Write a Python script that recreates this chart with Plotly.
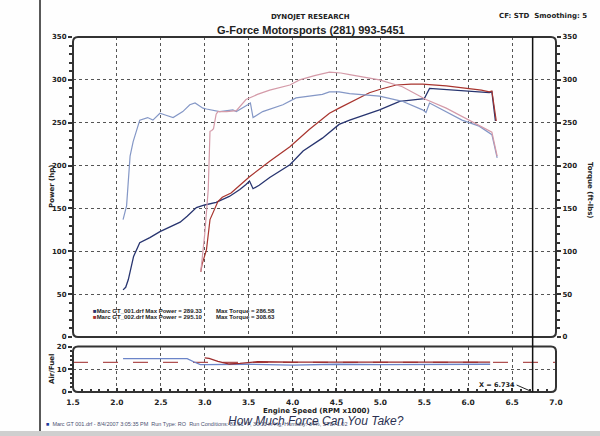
import plotly.graph_objects as go

# ---------------- data ----------------
run1_power_rpm = [2.07, 2.10, 2.13, 2.19, 2.26, 2.375, 2.49, 2.60, 2.72, 2.80, 2.905, 3.00, 3.13, 3.28,
                  3.40, 3.47, 3.51, 3.55, 3.62, 3.74, 3.97, 4.12, 4.34, 4.53, 4.65, 4.99, 5.22, 5.40,
                  5.50, 5.56, 5.70, 5.86, 6.00, 6.125, 6.24, 6.27, 6.31]
run1_power_hp = [55, 58, 67, 94, 110, 116, 123, 128, 134, 141, 151, 154, 157, 164,
                 172, 178, 182, 173, 177, 186, 201, 217, 232, 248, 253, 265, 275, 277,
                 278, 290, 289, 288, 287, 286, 285, 286, 252]

run2_power_rpm = [2.955, 2.97, 3.00, 3.02, 3.06, 3.11, 3.15, 3.20, 3.30, 3.40, 3.51, 3.74, 3.97, 4.19,
                  4.42, 4.53, 4.65, 4.875, 5.00, 5.18, 5.35, 5.48, 5.75, 6.01, 6.15, 6.24, 6.27, 6.32]
run2_power_hp = [76, 85, 95, 102, 137, 149, 158, 163, 168, 177, 187, 205, 222, 242,
                 261, 267, 273, 285, 289, 294, 295, 295, 293, 290, 288, 286, 287, 252]

run1_torque_rpm = [2.07, 2.11, 2.15, 2.185, 2.26, 2.35, 2.41, 2.49, 2.55, 2.64, 2.75, 2.83, 2.89, 2.98,
                   3.02, 3.17, 3.32, 3.36, 3.49, 3.52, 3.55, 3.66, 3.89, 4.04, 4.34, 4.42, 4.53, 4.65,
                   4.99, 5.25, 5.48, 5.52, 5.56, 5.93, 6.125, 6.27, 6.33]
run1_torque_ftlb = [137, 153, 211, 228, 253, 256, 253, 261, 259, 256, 263, 271, 273, 267,
                    266, 263, 265, 263, 271, 273, 256, 263, 271, 279, 283, 286, 286, 284,
                    281, 275, 265, 262, 273, 253, 246, 236, 209]

run2_torque_rpm = [2.955, 3.00, 3.04, 3.06, 3.08, 3.10, 3.13, 3.15, 3.25, 3.36, 3.47, 3.60, 3.74, 3.97,
                   4.08, 4.25, 4.42, 4.55, 4.65, 4.99, 5.25, 5.52, 5.75, 6.01, 6.24, 6.27, 6.33]
run2_torque_ftlb = [76, 120, 172, 240, 241, 243, 260, 263, 263, 264, 277, 283, 288, 294,
                    300, 305, 309, 308, 306, 300, 292, 277, 267, 253, 240, 239, 211]

afr1_rpm = [2.07, 2.80, 2.88, 2.95, 3.00, 3.50, 4.00, 4.50, 5.00, 5.50, 6.00, 6.25]
afr1_val = [14.7, 14.7, 13.2, 12.0, 12.0, 12.2, 11.8, 12.2, 12.0, 12.2, 12.2, 12.2]
afr2_rpm = [3.00, 3.05, 3.15, 3.28, 3.40, 3.60, 4.00, 5.00, 6.00, 6.25]
afr2_val = [15.0, 14.8, 13.5, 12.3, 12.6, 13.3, 13.1, 13.1, 13.1, 13.1]
afr_target = 13.0

x_cursor = 6.734
max_info = [("Marc GT_001.drf", 289.33, 286.58), ("Marc GT_002.drf", 295.10, 308.63)]

power_ticks = [0, 50, 100, 150, 200, 250, 300, 350]
rpm_ticks = [1.5, 2.0, 2.5, 3.0, 3.5, 4.0, 4.5, 5.0, 5.5, 6.0, 6.5, 7.0]

# ---------------- layout geometry ----------------
W, H = 600, 436
ML, MR, MT, MB = 73, 44, 37, 44
PW, PH = W - ML - MR, H - MT - MB
def px(xp):  # pixel -> paper x
    return (xp - ML) / PW
def py(yp):  # pixel -> paper y
    return (H - MB - yp) / PH

main_dom = [py(337), 1.0]
afr_dom = [0.0, py(346.5)]

C_P1 = "#27346f"
C_P2 = "#a8342e"
C_T1 = "#8497c6"
C_T2 = "#d49aa8"
C_A1 = "#6b84c8"
C_A2 = "#9c2a2a"
FONT = "DejaVu Sans"

fig = go.Figure()
fig.add_trace(go.Scatter(x=run1_torque_rpm, y=run1_torque_ftlb, mode="lines", yaxis="y2",
                         line=dict(color=C_T1, width=1.2)))
fig.add_trace(go.Scatter(x=run2_torque_rpm, y=run2_torque_ftlb, mode="lines", yaxis="y2",
                         line=dict(color=C_T2, width=1.2)))
fig.add_trace(go.Scatter(x=run1_power_rpm, y=run1_power_hp, mode="lines",
                         line=dict(color=C_P1, width=1.3)))
fig.add_trace(go.Scatter(x=run2_power_rpm, y=run2_power_hp, mode="lines",
                         line=dict(color=C_P2, width=1.2)))
# AFR subplot
fig.add_trace(go.Scatter(x=[1.5, 7.0], y=[afr_target, afr_target], mode="lines", xaxis="x2", yaxis="y3",
                         line=dict(color="#b05050", width=1.2, dash="longdash")))
fig.add_trace(go.Scatter(x=afr1_rpm, y=afr1_val, mode="lines", xaxis="x2", yaxis="y3",
                         line=dict(color=C_A1, width=1.3)))
fig.add_trace(go.Scatter(x=afr2_rpm, y=afr2_val, mode="lines", xaxis="x2", yaxis="y3",
                         line=dict(color=C_A2, width=1.3)))

tickf = dict(family=FONT, size=7, color="#222", weight="bold")
grid = dict(showgrid=True, gridcolor="#555", gridwidth=1, griddash="dot")

fig.update_layout(
    width=W, height=H, margin=dict(l=ML, r=MR, t=MT, b=MB, autoexpand=False),
    paper_bgcolor="#fefefe", plot_bgcolor="#fefefe", showlegend=False,
    xaxis=dict(domain=[0, 1], range=[1.5, 7.0], anchor="y", tickvals=rpm_ticks, showticklabels=False,
               ticks="", zeroline=False, showline=False, **grid),
    yaxis=dict(domain=main_dom, range=[0, 350], tickvals=power_ticks, tickfont=tickf,
               ticks="outside", ticklen=4, tickcolor="#333", tickwidth=1.5,
               minor=dict(dtick=10, ticks="outside", ticklen=3, tickcolor="#333", showgrid=False),
               zeroline=False, showline=False, **grid),
    yaxis2=dict(overlaying="y", side="right", range=[0, 350], tickvals=power_ticks, tickfont=tickf,
                anchor="x", ticks="outside", ticklen=4, tickcolor="#333", tickwidth=1.5,
                minor=dict(dtick=10, ticks="outside", ticklen=3, tickcolor="#333", showgrid=False),
                showgrid=False, zeroline=False, showline=False),
    xaxis2=dict(domain=[0, 1], range=[1.5, 7.0], anchor="y3", matches="x", tickvals=rpm_ticks,
                ticktext=[f"{v:.1f}" for v in rpm_ticks], tickfont=dict(tickf, size=7.5),
                ticks="inside", ticklen=4, tickcolor="#333", tickwidth=1.5, ticklabelstandoff=4,
                minor=dict(dtick=0.1, ticks="inside", ticklen=3, tickcolor="#333", showgrid=False),
                zeroline=False, showline=False, **grid),
    yaxis3=dict(domain=afr_dom, range=[0, 20], tickvals=[0, 10, 20], tickfont=tickf, anchor="x2",
                ticks="outside", ticklen=4, tickcolor="#333", tickwidth=1.5,
                minor=dict(dtick=2, ticks="outside", ticklen=2, tickcolor="#333", showgrid=False),
                zeroline=False, showline=False, **grid),
)

def rounded_rect(x0, y0, x1, y1, r):
    rx = r / PW
    ry = r / PH
    return (f"M {x0+rx},{y1} L {x1-rx},{y1} Q {x1},{y1} {x1},{y1-ry} L {x1},{y0+ry} "
            f"Q {x1},{y0} {x1-rx},{y0} L {x0+rx},{y0} Q {x0},{y0} {x0},{y0+ry} "
            f"L {x0},{y1-ry} Q {x0},{y1} {x0+rx},{y1} Z")

shapes = [
    dict(type="path", xref="paper", yref="paper", path=rounded_rect(0, main_dom[0], 1, 1, 5),
         line=dict(color="#333", width=2)),
    dict(type="path", xref="paper", yref="paper", path=rounded_rect(0, 0, 1, afr_dom[1], 5),
         line=dict(color="#333", width=2)),
    dict(type="line", xref="x", yref="paper", x0=x_cursor, x1=x_cursor, y0=0, y1=1,
         line=dict(color="#111", width=1.5)),
    dict(type="line", xref="paper", yref="paper", x0=px(40), x1=px(40), y0=py(436), y1=py(0),
         line=dict(color="#222", width=1.5)),
    dict(type="rect", xref="paper", yref="paper", x0=px(0), x1=px(600), y0=py(436), y1=py(431),
         line=dict(width=0), fillcolor="#cfcfcf"),
]
fig.update_layout(shapes=shapes)

ann = []
def txt(x, y, s, size=8, bold=True, xanchor="center", color="#222", family=FONT, angle=0, italic=False):
    ann.append(dict(x=x, y=y, xref="paper", yref="paper", text=s, showarrow=False, xanchor=xanchor,
                    yanchor="middle", textangle=angle,
                    font=dict(family=family, size=size, color=color,
                              weight="bold" if bold else "normal",
                              style="italic" if italic else "normal")))

txt(px(310), py(17), "DYNOJET RESEARCH", size=7)
txt(px(311), py(30), "G-Force Motorsports (281) 993-5451", size=11, family="Liberation Sans")
txt(px(589), py(16), "CF: STD&nbsp;&nbsp;Smoothing: 5", size=7, xanchor="right")
txt(px(52), py(187), "Power (hp)", size=7, angle=-90)
txt(px(590), py(190), "Torque (ft-lbs)", size=7, angle=90)
txt(px(52), py(369), "Air/Fuel", size=7, angle=-90)
txt(px(316), py(411), "Engine Speed (RPM x1000)", size=7)

leg_cols = [C_P1, C_P2]
for i, (name, mp, mt) in enumerate(max_info):
    yy = py(310.5 + 6 * i)
    txt(px(91), yy, f'<span style="color:{leg_cols[i]}">■</span>{name} Max Power = {mp:.2f}',
        size=6, xanchor="left", family="Liberation Sans")
    txt(px(214), yy, f"Max Torque = {mt:.2f}", size=6, xanchor="left", family="Liberation Sans")

txt(px(44), py(424), '<span style="color:#1f3a9a">■</span>&nbsp;&nbsp;Marc GT 001.drf - 8/4/2007 3:05:35 PM  Run Type: RO  '
    'Run Conditions: 83.61 °F, 30.11 in-Hg, Humidity: 34%, STD: 1.02',
    size=5.5, bold=False, xanchor="left", color="#4a5070", family="Liberation Sans")
txt(px(316), py(421), "How Much Force Can You Take?", size=12, bold=False, color="#2a3050",
    family="Liberation Sans", italic=True)

ann.append(dict(x=x_cursor, y=0, xref="x2", yref="y3", text="X = 6.734", showarrow=True, arrowhead=0,
                arrowwidth=1, arrowcolor="#222", ax=-16, ay=-7, xanchor="right",
                font=dict(family=FONT, size=6.5, color="#222", weight="bold")))
fig.update_layout(annotations=ann)

fig.write_html("out.html")
